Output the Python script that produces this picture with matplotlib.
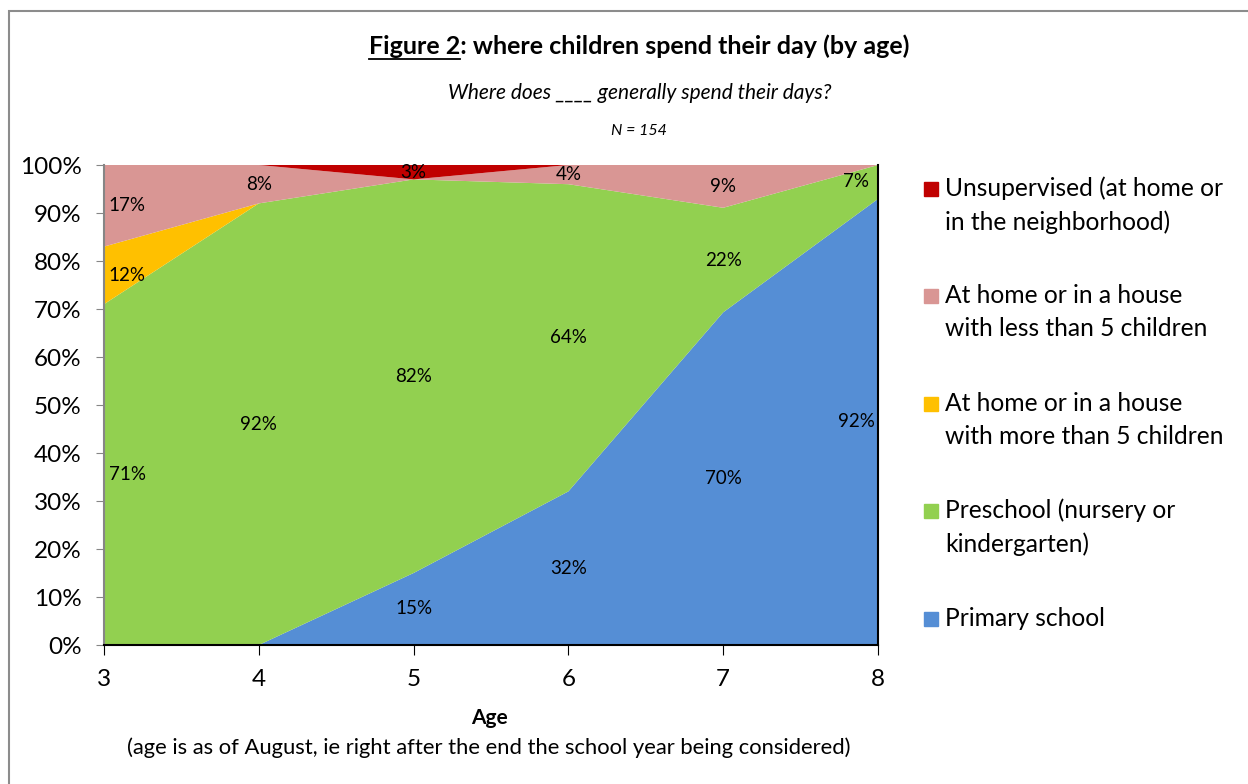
import numpy as np
import matplotlib
matplotlib.use("Agg")
import matplotlib.pyplot as plt
from matplotlib.patches import Rectangle

plt.rcParams['font.family'] = ['Lato', 'DejaVu Sans']

ages = [3, 4, 5, 6, 7, 8]
primary = [0, 0, 15, 32, 70, 92]
preschool = [71, 92, 82, 64, 22, 7]
more5 = [12, 0, 0, 0, 0, 0]
less5 = [17, 8, 0, 4, 9, 0]
unsup = [0, 0, 3, 0, 0, 0]

names = ["Primary school", "Preschool (nursery or\nkindergarten)",
         "At home or in a house\nwith more than 5 children",
         "At home or in a house\nwith less than 5 children",
         "Unsupervised (at home or\nin the neighborhood)"]
colors = ["#558ed5", "#92d050", "#ffc000", "#d99694", "#c00000"]

series = np.array([primary, preschool, more5, less5, unsup], dtype=float)
share = series / series.sum(axis=0) * 100  # 100% stacked

W, H = 1248, 784
fig = plt.figure(figsize=(W/100, H/100), dpi=100)
ax = fig.add_axes([104/W, 1-645/H, 774/W, 480/H])
ax.stackplot(ages, share, colors=colors, linewidth=0)

# data labels in middle of each band
cum = np.cumsum(share, axis=0)
for s in range(len(series)):
    for i, a in enumerate(ages):
        v = series[s, i]
        if v <= 0:
            continue
        ymid = cum[s, i] - share[s, i] / 2
        xa = a
        if i == 0:
            xa = a + 0.15
        elif i == len(ages) - 1:
            xa = a - 0.14
        ax.text(xa, ymid, "%d%%" % v, ha='center', va='center', fontsize=13.5, color='black')

ax.set_xlim(3, 8)
ax.set_ylim(0, 100)
ax.set_yticks(range(0, 101, 10))
ax.set_yticklabels(["%d%%" % t for t in range(0, 101, 10)], fontsize=17.5)
ax.set_xticks(ages)
ax.set_xticklabels([str(a) for a in ages], fontsize=17.5)
ax.tick_params(axis='y', direction='out', length=6, color='#868686', pad=10)
ax.tick_params(axis='x', direction='out', length=7, color='black', pad=10)
ax.spines['top'].set_visible(False)
ax.spines['left'].set_color('#868686')
ax.spines['left'].set_linewidth(1.5)
ax.spines['bottom'].set_color('black')
ax.spines['bottom'].set_linewidth(1.5)
ax.spines['right'].set_color('black')
ax.spines['right'].set_linewidth(1.5)

fig.text(489/W, 1-718/H, "Age", ha='center', va='center', fontsize=15, fontweight='bold')
fig.text(489/W, 1-748/H, "(age is as of August, ie right after the end the school year being considered)",
         ha='center', va='center', fontsize=15.8)

# titles
title = fig.text(369/W, 1-46/H, "Figure 2: where children spend their day (by age)",
                 ha='left', va='center', fontsize=18, fontweight='bold')
part = fig.text(369/W, 1-46/H, "Figure 2", ha='left', va='center', fontsize=18,
                fontweight='bold', alpha=0)
r = fig.canvas.get_renderer()
bb = part.get_window_extent(renderer=r)
fig.add_artist(plt.Line2D([bb.x0/W, bb.x1/W], [1-59/H, 1-59/H], color='black', lw=1.3))
fig.text(640/W, 1-93/H, "Where does ____ generally spend their days?",
         ha='center', va='center', fontsize=15, style='italic')
fig.text(639/W, 1-131/H, "N = 154", ha='center', va='center', fontsize=11.5, style='italic')

# legend, top item first (y of first text line)
leg_y = [189, 296, 404, 511, 619]
for k, yy in enumerate(leg_y):
    s = len(names) - 1 - k
    nl = names[s].count("\n")
    fig.add_artist(Rectangle((924/W, 1-(yy+7)/H), 14/W, 14/H,
                             transform=fig.transFigure, color=colors[s]))
    fig.text(945/W, 1-(yy + 16*nl)/H, names[s], ha='left', va='center',
             fontsize=17.7, linespacing=1.55)

# outer border
fig.add_artist(Rectangle((9/W, -0.01), 1.05, 1-11/H + 0.01, transform=fig.transFigure,
                         fill=False, edgecolor='#8c8c8c', lw=1.5))

fig.savefig("out.png", dpi=100)
